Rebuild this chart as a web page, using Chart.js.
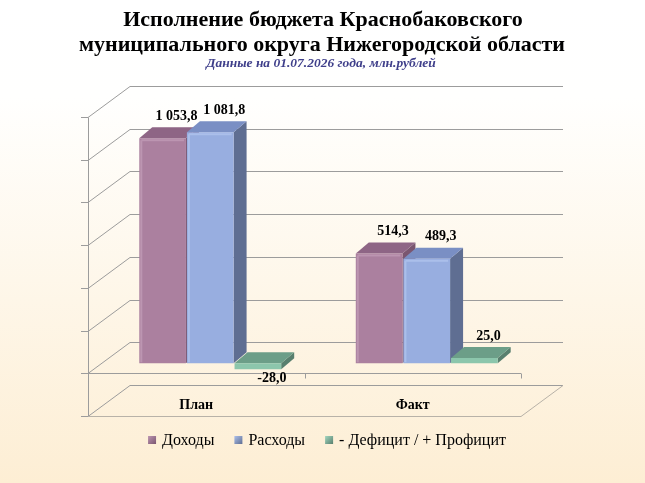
<!DOCTYPE html>
<html><head><meta charset="utf-8">
<script src="https://cdn.jsdelivr.net/npm/chart.js@4/dist/chart.umd.min.js"></script>
<style>html,body{margin:0;padding:0;background:#fff}#wrap{width:645px;height:483px;position:relative}</style>
</head><body><div id="wrap"><canvas id="c"></canvas></div>
<script>
const categories = ['План', 'Факт'];
const seriesNames = ['Доходы', 'Расходы', '- Дефицит / + Профицит'];
const incomeValues = [1053.8, 514.3];
const expenseValues = [1081.8, 489.3];
const balanceValues = [-28.0, 25.0];
const valueTicks = [-200, 0, 200, 400, 600, 800, 1000, 1200];
const titleLines = ['Исполнение бюджета Краснобаковского', 'муниципального округа Нижегородской области'];
const subtitleText = 'Данные на 01.07.2026 года, млн.рублей';

const faceColors = [
  {front: '#AB809F', light: '#BC95B1', top: '#8E6585', side: '#7A5670'},
  {front: '#98AEE0', light: '#ABBFEA', top: '#7A8FC4', side: '#5F6E92'},
  {front: '#8CC6AC', light: '#A2D6BF', top: '#6C9E88', side: '#587F6E'}
];
const BAR_D = {x: 13, y: -11};
const FRONT = {x: -14, y: 10};
const BACK = {x: 28, y: -21};
const SERIF = '"Liberation Serif", "Times New Roman", serif';

function fmt(v) {
  const neg = v < 0;
  let s = Math.abs(v).toFixed(1);
  let [ip, dp] = s.split('.');
  ip = ip.replace(/\B(?=(\d{3})+(?!\d))/g, ' ');
  return (neg ? '-' : '') + ip + ',' + dp;
}

function line(ctx, x1, y1, x2, y2) {
  ctx.beginPath(); ctx.moveTo(x1, y1); ctx.lineTo(x2, y2); ctx.stroke();
}
function poly(ctx, pts, fill) {
  ctx.beginPath(); ctx.moveTo(pts[0][0], pts[0][1]);
  for (let i = 1; i < pts.length; i++) ctx.lineTo(pts[i][0], pts[i][1]);
  ctx.closePath(); ctx.fillStyle = fill; ctx.fill();
}

const threeD = {
  id: 'threeD',
  beforeDraw(chart) {
    const ctx = chart.ctx;
    const g = ctx.createLinearGradient(0, 0, 0, chart.height);
    g.addColorStop(0, '#FFFFFF');
    g.addColorStop(0.2, '#FFFFFE');
    g.addColorStop(1, '#FDEED4');
    ctx.save(); ctx.fillStyle = g; ctx.fillRect(0, 0, chart.width, chart.height); ctx.restore();
  },
  beforeDatasetsDraw(chart) {
    const ctx = chart.ctx, ys = chart.scales.y, xs = chart.scales.x, ca = chart.chartArea;
    const L = ca.left, R = ca.right;
    const vMin = valueTicks[0], vMax = valueTicks[valueTicks.length - 1];
    ctx.save();
    ctx.lineWidth = 1;
    ctx.strokeStyle = '#9C9C9C';
    valueTicks.forEach(v => {
      const y = Math.round(ys.getPixelForValue(v)) + 0.5;
      line(ctx, L + BACK.x, y + BACK.y, R + BACK.x, y + BACK.y);
      line(ctx, L + FRONT.x, y + FRONT.y, L + BACK.x, y + BACK.y);
      line(ctx, L + FRONT.x - 7, y + FRONT.y, L + FRONT.x, y + FRONT.y);
    });
    const yTopF = Math.round(ys.getPixelForValue(vMax)) + 0.5 + FRONT.y;
    const yBotF = Math.round(ys.getPixelForValue(vMin)) + 0.5 + FRONT.y;
    const yZeroF = Math.round(ys.getPixelForValue(0)) + 0.5 + FRONT.y;
    const axX = Math.round(L + FRONT.x) + 0.5;
    line(ctx, axX, yTopF, axX, yBotF);
    line(ctx, axX, yZeroF, R + FRONT.x, yZeroF);
    const half = (xs.getPixelForValue(1) - xs.getPixelForValue(0)) / 2;
    categories.forEach((c, i) => {
      const bx = Math.round(xs.getPixelForValue(i) + half + FRONT.x) + 0.5;
      line(ctx, bx, yZeroF, bx, yZeroF + 5);
    });
    ctx.strokeStyle = '#B8B2A8';
    line(ctx, axX, yBotF, R + FRONT.x, yBotF);
    line(ctx, R + FRONT.x, yBotF, R + BACK.x, yBotF - FRONT.y + BACK.y);
    // bar sides and tops
    categories.forEach((c, i) => {
      chart.data.datasets.forEach((ds, d) => {
        const el = chart.getDatasetMeta(d).data[i];
        const x0 = el.x - el.width / 2, x1 = el.x + el.width / 2;
        const yT = Math.min(el.y, el.base), yB = Math.max(el.y, el.base);
        const fc = faceColors[d];
        poly(ctx, [[x1, yT], [x1 + BAR_D.x, yT + BAR_D.y], [x1 + BAR_D.x, yB + BAR_D.y], [x1, yB]], fc.side);
        poly(ctx, [[x0, yT], [x0 + BAR_D.x, yT + BAR_D.y], [x1 + BAR_D.x, yT + BAR_D.y], [x1, yT]], fc.top);
      });
    });
    ctx.restore();
  },
  afterDatasetsDraw(chart) {
    const ctx = chart.ctx, xs = chart.scales.x, ys = chart.scales.y;
    ctx.save();
    // subtle bevel highlight on front faces
    chart.data.datasets.forEach((ds, d) => {
      chart.getDatasetMeta(d).data.forEach((el) => {
        const x0 = el.x - el.width / 2;
        const yT = Math.min(el.y, el.base), yB = Math.max(el.y, el.base);
        if (yB - yT < 8) return;
        ctx.fillStyle = faceColors[d].light;
        ctx.fillRect(x0 + 1, yT + 2, 2, yB - yT - 3);
        ctx.fillRect(x0 + 2, yT + 1, el.width - 4, 2);
      });
    });
    ctx.fillStyle = '#000';
    ctx.font = 'bold 14px ' + SERIF;
    ctx.textAlign = 'center'; ctx.textBaseline = 'middle';
    chart.data.datasets.forEach((ds, d) => {
      chart.getDatasetMeta(d).data.forEach((el, i) => {
        const v = ds.data[i];
        const y = v >= 0 ? el.y - 22 : el.y + 9;
        ctx.fillText(fmt(v), el.x + 14, y);
      });
    });
    const yCat = ys.getPixelForValue(valueTicks[0]) + FRONT.y - 11;
    categories.forEach((c, i) => {
      ctx.fillText(c, xs.getPixelForValue(i) + FRONT.x, yCat);
    });
    ctx.restore();
  },
  afterDraw(chart) {
    const ctx = chart.ctx;
    ctx.save();
    ctx.textAlign = 'center'; ctx.textBaseline = 'middle';
    ctx.fillStyle = '#000';
    ctx.font = 'bold 22px ' + SERIF;
    ctx.fillText(titleLines[0], 323, 20);
    ctx.fillText(titleLines[1], 322, 45);
    ctx.fillStyle = '#3F3F8A';
    ctx.font = 'italic bold 13.5px ' + SERIF;
    ctx.fillText(subtitleText, 321, 64);
    // legend
    ctx.font = '16px ' + SERIF;
    ctx.textAlign = 'left';
    const sq = 8, gapT = 6, gapI = 20;
    const widths = seriesNames.map(n => sq + gapT + ctx.measureText(n).width);
    const total = widths.reduce((a, b) => a + b, 0) + gapI * (seriesNames.length - 1);
    let x = 327 - total / 2;
    const ly = 440;
    seriesNames.forEach((n, d) => {
      const fc = faceColors[d];
      const g = ctx.createLinearGradient(x, ly - 4, x + sq, ly + 4);
      g.addColorStop(0, fc.light); g.addColorStop(1, fc.side);
      ctx.fillStyle = g;
      ctx.fillRect(x, ly - 4, sq, sq);
      ctx.fillStyle = '#000';
      ctx.fillText(n, x + sq + gapT, ly + 1);
      x += widths[d] + gapI;
    });
    ctx.restore();
  }
};

new Chart(document.getElementById('c'), {
  type: 'bar',
  data: {
    labels: categories,
    datasets: [
      {label: seriesNames[0], data: incomeValues, backgroundColor: faceColors[0].front},
      {label: seriesNames[1], data: expenseValues, backgroundColor: faceColors[1].front},
      {label: seriesNames[2], data: balanceValues, backgroundColor: faceColors[2].front}
    ]
  },
  options: {
    responsive: true,
    maintainAspectRatio: false,
    animation: false,
    layout: {padding: {left: 102, right: 110, top: 107, bottom: 77}},
    categoryPercentage: 0.66,
    barPercentage: 0.98,
    scales: {
      x: {display: false},
      y: {display: false, min: valueTicks[0], max: valueTicks[valueTicks.length - 1]}
    },
    plugins: {legend: {display: false}, title: {display: false}, tooltip: {enabled: false}}
  },
  plugins: [threeD]
});
</script></body></html>
